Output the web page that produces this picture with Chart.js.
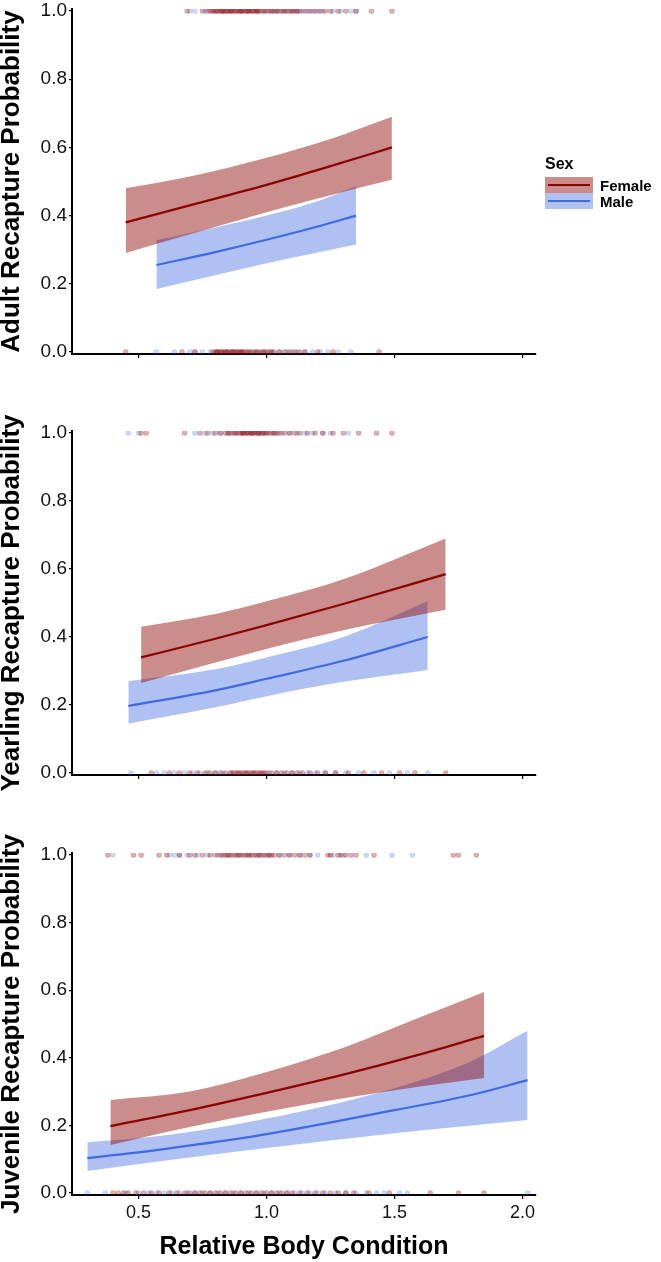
<!DOCTYPE html>
<html>
<head>
<meta charset="utf-8">
<script src="https://cdn.jsdelivr.net/npm/chart.js@4"></script>
<style>
  body { margin: 0; background: #fff; width: 661px; height: 1262px; position: relative; overflow: hidden; font-family: "Liberation Sans", Arial, sans-serif; }
  .panel { position: absolute; left: 0; }
  #legend { position: absolute; left: 545px; top: 155px; color: #000; }
  #legend .title { font-weight: bold; font-size: 16px; margin-bottom: 4px; }
  #legend .row { display: flex; align-items: center; height: 16px; }
  #legend .key { width: 48px; height: 16px; position: relative; }
  #legend .key i { position: absolute; left: 3px; right: 3px; top: 7px; height: 2px; }
  #legend .lab { font-weight: bold; font-size: 15px; margin-left: 7px; }
</style>
</head>
<body>
<canvas id="adult" class="panel" width="661" height="395" style="top:-21px"></canvas>
<canvas id="yearling" class="panel" width="661" height="394" style="top:401px"></canvas>
<canvas id="juvenile" class="panel" width="661" height="439" style="top:823px"></canvas>
<div id="legend">
  <div class="title">Sex</div>
  <div class="row"><div class="key" style="background:rgba(139,0,0,0.45)"><i style="background:#8b0000"></i></div><span class="lab">Female</span></div>
  <div class="row"><div class="key" style="background:rgba(65,105,225,0.42)"><i style="background:#4169e1"></i></div><span class="lab">Male</span></div>
</div>
<script>
const xTicks = [0.5, 1.0, 1.5, 2.0];
const yTicks = [0, 0.2, 0.4, 0.6, 0.8, 1.0];

// Adult
const adultFemaleX = [0.45, 0.7, 1.0, 1.25, 1.49];
const adultFemaleFit = [0.38, 0.43, 0.49, 0.545, 0.60];
const adultFemaleLow = [0.29, 0.345, 0.41, 0.46, 0.505];
const adultFemaleHigh = [0.48, 0.515, 0.57, 0.625, 0.69];
const adultMaleX = [0.57, 0.8, 1.0, 1.2, 1.35];
const adultMaleFit = [0.255, 0.293, 0.329, 0.368, 0.40];
const adultMaleLow = [0.185, 0.225, 0.26, 0.292, 0.315];
const adultMaleHigh = [0.328, 0.365, 0.40, 0.442, 0.487];
const adultFemaleSeen = [0.69, 0.75, 0.77, 0.78, 0.79, 0.80, 0.805, 0.81, 0.82, 0.825, 0.83, 0.84, 0.845, 0.85, 0.86, 0.865, 0.87, 0.88, 0.885, 0.89, 0.90, 0.905, 0.91, 0.92, 0.925, 0.93, 0.94, 0.945, 0.95, 0.96, 0.965, 0.97, 0.98, 0.99, 1.00, 1.01, 1.02, 1.03, 1.04, 1.05, 1.06, 1.07, 1.08, 1.09, 1.10, 1.11, 1.12, 1.13, 1.15, 1.17, 1.19, 1.21, 1.23, 1.25, 1.28, 1.31, 1.35, 1.41, 1.49];
const adultMaleSeen = [0.70, 0.72, 0.76, 0.79, 0.83, 0.86, 0.90, 0.93, 0.96, 0.99, 1.02, 1.04, 1.07, 1.10, 1.12, 1.14, 1.16, 1.18, 1.20, 1.22, 1.26, 1.29, 1.33, 1.35];
const adultFemaleMissed = [0.45, 0.67, 0.72, 0.79, 0.80, 0.805, 0.81, 0.82, 0.825, 0.83, 0.84, 0.845, 0.85, 0.86, 0.865, 0.87, 0.88, 0.885, 0.89, 0.90, 0.905, 0.91, 0.92, 0.93, 0.94, 0.95, 0.96, 0.97, 0.98, 0.99, 1.00, 1.01, 1.02, 1.03, 1.05, 1.07, 1.09, 1.11, 1.13, 1.15, 1.20, 1.26, 1.44];
const adultMaleMissed = [0.57, 0.64, 0.70, 0.72, 0.75, 0.78, 0.81, 0.84, 0.87, 0.90, 0.93, 0.96, 0.99, 1.02, 1.05, 1.08, 1.10, 1.12, 1.15, 1.18, 1.21, 1.24, 1.28, 1.33];

// Yearling
const yearFemaleX = [0.51, 0.8, 1.0, 1.3, 1.7];
const yearFemaleFit = [0.34, 0.395, 0.435, 0.497, 0.585];
const yearFemaleLow = [0.265, 0.325, 0.365, 0.42, 0.48];
const yearFemaleHigh = [0.43, 0.468, 0.505, 0.57, 0.69];
const yearMaleX = [0.46, 0.8, 1.0, 1.3, 1.63];
const yearMaleFit = [0.197, 0.243, 0.277, 0.33, 0.40];
const yearMaleLow = [0.145, 0.193, 0.226, 0.268, 0.303];
const yearMaleHigh = [0.27, 0.305, 0.34, 0.40, 0.505];
const yearFemaleSeen = [0.51, 0.53, 0.68, 0.74, 0.77, 0.80, 0.82, 0.84, 0.85, 0.86, 0.87, 0.88, 0.89, 0.90, 0.905, 0.91, 0.92, 0.925, 0.93, 0.94, 0.945, 0.95, 0.96, 0.965, 0.97, 0.98, 0.985, 0.99, 1.00, 1.01, 1.02, 1.03, 1.04, 1.05, 1.07, 1.09, 1.11, 1.13, 1.16, 1.19, 1.22, 1.26, 1.30, 1.36, 1.43, 1.49];
const yearMaleSeen = [0.46, 0.50, 0.72, 0.76, 0.79, 0.82, 0.85, 0.88, 0.91, 0.94, 0.97, 1.00, 1.03, 1.06, 1.09, 1.12, 1.15, 1.18, 1.22, 1.25, 1.32];
const yearFemaleMissed = [0.55, 0.62, 0.66, 0.70, 0.73, 0.76, 0.78, 0.80, 0.82, 0.84, 0.86, 0.87, 0.88, 0.89, 0.90, 0.91, 0.92, 0.93, 0.94, 0.95, 0.96, 0.97, 0.98, 0.99, 1.00, 1.02, 1.04, 1.06, 1.08, 1.10, 1.12, 1.14, 1.17, 1.20, 1.23, 1.27, 1.32, 1.38, 1.45, 1.52, 1.58, 1.70];
const yearMaleMissed = [0.47, 0.57, 0.60, 0.64, 0.68, 0.71, 0.74, 0.77, 0.80, 0.83, 0.86, 0.89, 0.92, 0.95, 0.98, 1.01, 1.04, 1.07, 1.10, 1.13, 1.16, 1.19, 1.23, 1.27, 1.31, 1.36, 1.42, 1.48, 1.55, 1.63];

// Juvenile
const juvFemaleX = [0.39, 0.7, 1.0, 1.3, 1.6, 1.85];
const juvFemaleFit = [0.198, 0.245, 0.296, 0.35, 0.41, 0.465];
const juvFemaleLow = [0.142, 0.195, 0.24, 0.28, 0.315, 0.34];
const juvFemaleHigh = [0.275, 0.30, 0.358, 0.43, 0.52, 0.595];
const juvMaleX = [0.30, 0.6, 1.0, 1.5, 1.8, 2.02];
const juvMaleFit = [0.103, 0.13, 0.174, 0.245, 0.29, 0.334];
const juvMaleLow = [0.065, 0.095, 0.133, 0.177, 0.20, 0.216];
const juvMaleHigh = [0.15, 0.17, 0.22, 0.31, 0.39, 0.48];
const juvFemaleSeen = [0.38, 0.48, 0.51, 0.58, 0.61, 0.66, 0.70, 0.72, 0.75, 0.78, 0.80, 0.82, 0.83, 0.84, 0.85, 0.86, 0.87, 0.88, 0.89, 0.90, 0.91, 0.92, 0.93, 0.94, 0.95, 0.96, 0.97, 0.98, 0.99, 1.00, 1.01, 1.02, 1.03, 1.05, 1.07, 1.09, 1.11, 1.13, 1.15, 1.17, 1.24, 1.25, 1.28, 1.29, 1.31, 1.33, 1.35, 1.42, 1.73, 1.75, 1.82];
const juvMaleSeen = [0.40, 0.62, 0.64, 0.66, 0.69, 0.73, 0.77, 0.81, 0.85, 0.89, 0.93, 0.97, 1.01, 1.05, 1.09, 1.13, 1.17, 1.20, 1.26, 1.30, 1.39, 1.49, 1.57];
const juvFemaleMissed = [0.40, 0.42, 0.44, 0.46, 0.49, 0.52, 0.55, 0.58, 0.62, 0.65, 0.68, 0.70, 0.72, 0.74, 0.76, 0.78, 0.80, 0.82, 0.84, 0.86, 0.88, 0.90, 0.92, 0.94, 0.96, 0.98, 1.00, 1.02, 1.04, 1.06, 1.08, 1.10, 1.13, 1.16, 1.19, 1.22, 1.25, 1.28, 1.31, 1.34, 1.40, 1.48, 1.64, 1.75, 1.85];
const juvMaleMissed = [0.30, 0.37, 0.45, 0.50, 0.54, 0.57, 0.60, 0.63, 0.66, 0.69, 0.72, 0.75, 0.78, 0.81, 0.84, 0.87, 0.90, 0.93, 0.96, 0.99, 1.02, 1.05, 1.08, 1.11, 1.14, 1.17, 1.20, 1.23, 1.27, 1.31, 1.35, 1.39, 1.43, 1.46, 1.52, 1.55, 2.02];

const red = '#8b0000';
const blue = '#4169e1';
const redFill = 'rgba(139,0,0,0.45)';
const blueFill = 'rgba(65,105,225,0.42)';
const redDot = 'rgba(139,0,0,0.3)';
const blueDot = 'rgba(65,105,225,0.26)';

function pts(xs, ys) { return xs.map((x, i) => ({x: x, y: ys[i]})); }
function rug(xs, y) { return xs.map(x => ({x: x, y: y})); }

function curve(xs, low, high, fit, col, fill) {
  return [
    { data: pts(xs, low), borderWidth: 0, borderColor: 'transparent', pointRadius: 0, fill: false, cubicInterpolationMode: 'monotone', order: 3 },
    { data: pts(xs, high), borderWidth: 0, borderColor: 'transparent', backgroundColor: fill, pointRadius: 0, fill: '-1', cubicInterpolationMode: 'monotone', order: 3 },
    { data: pts(xs, fit), borderWidth: 2.2, borderColor: col, pointRadius: 0, fill: false, cubicInterpolationMode: 'monotone', order: 1 }
  ];
}
function dots(xs, y, col) {
  return { data: rug(xs, y), showLine: false, pointRadius: 2.5, pointBorderWidth: 0.6, pointBackgroundColor: col, pointBorderColor: col, order: 2 };
}

function makePanel(id, title, sets, xTitle, xHeight) {
  const datasets = [].concat(
    curve(sets.fx, sets.fl, sets.fh, sets.ff, red, redFill),
    curve(sets.mx, sets.ml, sets.mh, sets.mf, blue, blueFill),
    [dots(sets.fs, 1, redDot), dots(sets.ms, 1, blueDot), dots(sets.fm, 0, redDot), dots(sets.mm, 0, blueDot)]
  );
  new Chart(document.getElementById(id), {
    type: 'line',
    data: { datasets: datasets },
    options: {
      responsive: false,
      animation: false,
      events: [],
      layout: { padding: { top: 30, right: 125, left: 0, bottom: 0 } },
      plugins: { legend: { display: false }, tooltip: { enabled: false } },
      scales: {
        x: {
          type: 'linear', min: 0.24, max: 2.053,
          afterBuildTicks: s => { s.ticks = xTicks.map(v => ({value: v})); },
          afterFit: s => { s.height = xHeight; },
          border: { display: true, color: '#000', width: 2 },
          grid: { display: true, drawOnChartArea: false, drawTicks: true, tickLength: 4, color: '#000', lineWidth: 1.2 },
          ticks: { display: !!xTitle, padding: 5, color: '#111', font: { family: 'Liberation Sans', size: 18, lineHeight: 1 }, callback: v => v.toFixed(1) },
          title: { display: !!xTitle, text: xTitle || '', color: '#000', font: { family: 'Liberation Sans', size: 25, weight: 'bold' }, padding: { top: 0, bottom: 0 } }
        },
        y: {
          type: 'linear', min: -0.006, max: 1.006,
          afterBuildTicks: s => { s.ticks = yTicks.map(v => ({value: v})); },
          afterFit: s => { s.width = 72; },
          border: { display: true, color: '#000', width: 2 },
          grid: { display: true, drawOnChartArea: false, drawTicks: true, tickLength: 3, color: '#000', lineWidth: 1.2 },
          ticks: { padding: 2, color: '#111', font: { family: 'Liberation Sans', size: 19, lineHeight: 1 }, callback: v => v.toFixed(1) },
          title: { display: true, text: title, color: '#000', font: { family: 'Liberation Sans', size: 26, weight: 'bold', lineHeight: 0.9 }, padding: { top: 0, bottom: 0 } }
        }
      }
    }
  });
}

makePanel('adult', 'Adult Recapture Probability', {
  fx: adultFemaleX, ff: adultFemaleFit, fl: adultFemaleLow, fh: adultFemaleHigh,
  mx: adultMaleX, mf: adultMaleFit, ml: adultMaleLow, mh: adultMaleHigh,
  fs: adultFemaleSeen, ms: adultMaleSeen, fm: adultFemaleMissed, mm: adultMaleMissed
}, null, 20);

makePanel('yearling', 'Yearling Recapture Probability', {
  fx: yearFemaleX, ff: yearFemaleFit, fl: yearFemaleLow, fh: yearFemaleHigh,
  mx: yearMaleX, mf: yearMaleFit, ml: yearMaleLow, mh: yearMaleHigh,
  fs: yearFemaleSeen, ms: yearMaleSeen, fm: yearFemaleMissed, mm: yearMaleMissed
}, null, 20);

makePanel('juvenile', 'Juvenile Recapture Probability', {
  fx: juvFemaleX, ff: juvFemaleFit, fl: juvFemaleLow, fh: juvFemaleHigh,
  mx: juvMaleX, mf: juvMaleFit, ml: juvMaleLow, mh: juvMaleHigh,
  fs: juvFemaleSeen, ms: juvMaleSeen, fm: juvFemaleMissed, mm: juvMaleMissed
}, 'Relative Body Condition', 67);
</script>
</body>
</html>
